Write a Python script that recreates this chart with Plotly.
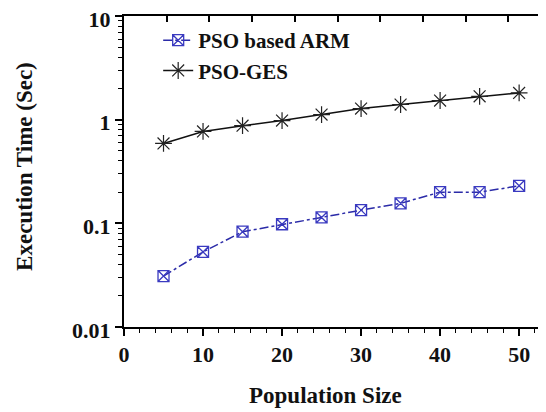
import plotly.graph_objects as go

pop_size = [5, 10, 15, 20, 25, 30, 35, 40, 45, 50]
pso_arm = [0.031, 0.053, 0.083, 0.098, 0.114, 0.134, 0.156, 0.20, 0.20, 0.23]
pso_ges = [0.59, 0.77, 0.875, 0.98, 1.12, 1.28, 1.40, 1.53, 1.68, 1.81]
x_ticks = [0, 10, 20, 30, 40, 50]
y_ticks = [0.01, 0.1, 1, 10]
y_labels = ["0.01", "0.1", "1", "10"]

FONT = "Liberation Serif"

fig = go.Figure()
fig.add_trace(go.Scatter(
    x=pop_size, y=pso_arm, name="<b>PSO based ARM</b>", mode="lines+markers",
    line=dict(color="#2b2ba8", width=1.5, dash="dashdot"),
    marker=dict(symbol="square-x-open", size=11, color="#3a3ac0", line=dict(width=1.3)),
))
fig.add_trace(go.Scatter(
    x=pop_size, y=pso_ges, name="<b>PSO-GES</b>", mode="lines+markers",
    line=dict(color="#111111", width=1.5),
    marker=dict(symbol="asterisk-open", size=14, color="#222222", line=dict(width=1.2)),
))
# invisible trace for top tick axis
fig.add_trace(go.Scatter(x=[0], y=[1], xaxis="x2", mode="markers",
                         marker=dict(opacity=0), showlegend=False, hoverinfo="skip"))

# page body has an 8px default margin, so the figure is offset by (8, 8)
fig.update_layout(
    width=538, height=404,
    margin=dict(l=116, r=0, t=8, b=85, autoexpand=False),
    paper_bgcolor="white", plot_bgcolor="white",
    font=dict(family=FONT, color="#111111"),
    showlegend=True,
    legend=dict(x=0.081, y=0.987, xanchor="left", yanchor="top",
                font=dict(size=21, family=FONT, color="#111111"),
                bgcolor="rgba(0,0,0,0)", tracegroupgap=0),
    xaxis=dict(range=[0, 53.4], tickvals=x_ticks, ticktext=[str(v) for v in x_ticks],
               showgrid=False, zeroline=False, showline=True, linecolor="black", linewidth=2,
               ticks="outside", ticklen=7, tickwidth=1.5, tickcolor="black", automargin=False,
               minor=dict(dtick=2, ticks="outside", ticklen=4, tickwidth=1.2, tickcolor="black"),
               tickfont=dict(size=22, family=FONT, color="#111111", weight="bold")),
    xaxis2=dict(range=[0, 9.88], dtick=1, overlaying="x", side="top", showgrid=False,
                zeroline=False, showline=True, linecolor="black", linewidth=2, automargin=False,
                ticks="inside", ticklen=6, tickwidth=1.5, tickcolor="black", showticklabels=False),
    yaxis=dict(type="log", range=[-2, 1], tickvals=y_ticks, ticktext=y_labels,
               showgrid=False, zeroline=False, showline=True, linecolor="black", linewidth=2,
               ticks="outside", ticklen=7, tickwidth=1.5, tickcolor="black", automargin=False,
               ticklabeloverflow="allow", ticklabelshift=3,
               minor=dict(tickvals=[a * b for b in (0.01, 0.1, 1) for a in range(2, 10)],
                          ticks="outside", ticklen=4, tickwidth=1.2, tickcolor="black"),
               tickfont=dict(size=22, family=FONT, color="#111111", weight="bold")),
    annotations=[
        dict(text="<b>Population Size</b>", x=0.4775, y=-0.219, xref="paper", yref="paper",
             xanchor="center", yanchor="middle", showarrow=False,
             font=dict(size=23, family=FONT, color="#111111")),
        dict(text="<b>Execution Time (Sec)</b>", x=-0.2346, y=0.518, xref="paper", yref="paper",
             xanchor="center", yanchor="middle", showarrow=False, textangle=-90,
             font=dict(size=23, family=FONT, color="#111111")),
    ],
)

fig.write_html("out.html")
